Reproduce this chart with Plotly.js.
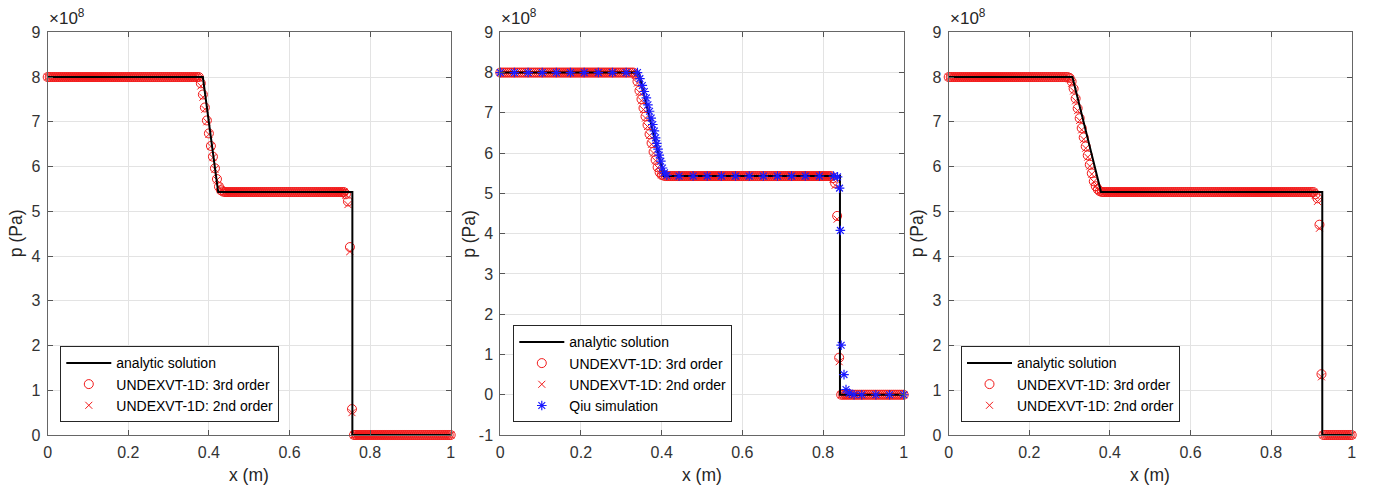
<!DOCTYPE html>
<html>
<head>
<meta charset="utf-8">
<script src="https://cdn.plot.ly/plotly-3.0.1.min.js"></script>
<style>html,body{margin:0;padding:0;background:#fff;}#chart{width:1373px;height:488px;}</style>
</head>
<body>
<div id="chart"></div>
<script>
// ---------------- DATA (pressure in units of 1e8 Pa) ----------------
const xTickVals = [0, 0.2, 0.4, 0.6, 0.8, 1];
const xTickText = ["0", "0.2", "0.4", "0.6", "0.8", "1"];
const yTickVals9 = [0, 1, 2, 3, 4, 5, 6, 7, 8, 9];
const yTickText9 = ["0", "1", "2", "3", "4", "5", "6", "7", "8", "9"];
const yTickVals10 = [-1, 0, 1, 2, 3, 4, 5, 6, 7, 8, 9];
const yTickText10 = ["-1", "0", "1", "2", "3", "4", "5", "6", "7", "8", "9"];

const seriesNames = ["analytic solution", "UNDEXVT-1D: 3rd order", "UNDEXVT-1D: 2nd order", "Qiu simulation"];

// cell positions of the 1D solver (m)
const xGrid = [
0,0.005,0.01,0.015,0.02,0.025,0.03,0.035,0.04,0.045,0.05,0.055,0.06,0.065,0.07,0.075,0.08,0.085,0.09,0.095,
0.1,0.105,0.11,0.115,0.12,0.125,0.13,0.135,0.14,0.145,0.15,0.155,0.16,0.165,0.17,0.175,0.18,0.185,0.19,0.195,
0.2,0.205,0.21,0.215,0.22,0.225,0.23,0.235,0.24,0.245,0.25,0.255,0.26,0.265,0.27,0.275,0.28,0.285,0.29,0.295,
0.3,0.305,0.31,0.315,0.32,0.325,0.33,0.335,0.34,0.345,0.35,0.355,0.36,0.365,0.37,0.375,0.38,0.385,0.39,0.395,
0.4,0.405,0.41,0.415,0.42,0.425,0.43,0.435,0.44,0.445,0.45,0.455,0.46,0.465,0.47,0.475,0.48,0.485,0.49,0.495,
0.5,0.505,0.51,0.515,0.52,0.525,0.53,0.535,0.54,0.545,0.55,0.555,0.56,0.565,0.57,0.575,0.58,0.585,0.59,0.595,
0.6,0.605,0.61,0.615,0.62,0.625,0.63,0.635,0.64,0.645,0.65,0.655,0.66,0.665,0.67,0.675,0.68,0.685,0.69,0.695,
0.7,0.705,0.71,0.715,0.72,0.725,0.73,0.735,0.74,0.745,0.75,0.755,0.76,0.765,0.77,0.775,0.78,0.785,0.79,0.795,
0.8,0.805,0.81,0.815,0.82,0.825,0.83,0.835,0.84,0.845,0.85,0.855,0.86,0.865,0.87,0.875,0.88,0.885,0.89,0.895,
0.9,0.905,0.91,0.915,0.92,0.925,0.93,0.935,0.94,0.945,0.95,0.955,0.96,0.965,0.97,0.975,0.98,0.985,0.99,0.995,
1];

// Panel 1
const p1AnalyticX = [0, 0.385, 0.423, 0.756, 0.756, 1];
const p1AnalyticY = [8, 8, 5.43, 5.43, 0, 0];
const p1Order3 = [
8,8,8,8,8, 8,8,8,8,8, 8,8,8,8,8, 8,8,8,8,8, 8,8,8,8,8,
8,8,8,8,8, 8,8,8,8,8, 8,8,8,8,8, 8,8,8,8,8, 8,8,8,8,8,
8,8,8,8,8, 8,8,8,8,8, 8,8,8,8,8, 8,8,8,8,8, 8,8,8,8,8,
8,7.86,7.61,7.32,7.03, 6.74,6.46,6.22,5.96,5.72, 5.55,5.47,5.44,5.43,5.43, 5.43,5.43,5.43,5.43,5.43, 5.43,5.43,5.43,5.43,5.43,
5.43,5.43,5.43,5.43,5.43, 5.43,5.43,5.43,5.43,5.43, 5.43,5.43,5.43,5.43,5.43, 5.43,5.43,5.43,5.43,5.43, 5.43,5.43,5.43,5.43,5.43,
5.43,5.43,5.43,5.43,5.43, 5.43,5.43,5.43,5.43,5.43, 5.43,5.43,5.43,5.43,5.43, 5.43,5.43,5.43,5.43,5.43, 5.43,5.43,5.43,5.38,5.22,
4.20,0.58,0,0,0, 0,0,0,0,0, 0,0,0,0,0, 0,0,0,0,0, 0,0,0,0,0,
0,0,0,0,0, 0,0,0,0,0, 0,0,0,0,0, 0,0,0,0,0, 0,0,0,0,0,
0];
const p1Order2 = [
8,8,8,8,8, 8,8,8,8,8, 8,8,8,8,8, 8,8,8,8,8, 8,8,8,8,8,
8,8,8,8,8, 8,8,8,8,8, 8,8,8,8,8, 8,8,8,8,8, 8,8,8,8,8,
8,8,8,8,8, 8,8,8,8,8, 8,8,8,8,8, 8,8,8,8,8, 8,8,8,8,8,
7.97,7.80,7.55,7.28,7.00, 6.72,6.45,6.20,5.94,5.70, 5.55,5.48,5.45,5.43,5.43, 5.43,5.43,5.43,5.43,5.43, 5.43,5.43,5.43,5.43,5.43,
5.43,5.43,5.43,5.43,5.43, 5.43,5.43,5.43,5.43,5.43, 5.43,5.43,5.43,5.43,5.43, 5.43,5.43,5.43,5.43,5.43, 5.43,5.43,5.43,5.43,5.43,
5.43,5.43,5.43,5.43,5.43, 5.43,5.43,5.43,5.43,5.43, 5.43,5.43,5.43,5.43,5.43, 5.43,5.43,5.43,5.43,5.43, 5.43,5.43,5.43,5.36,5.15,
4.10,0.50,0,0,0, 0,0,0,0,0, 0,0,0,0,0, 0,0,0,0,0, 0,0,0,0,0,
0,0,0,0,0, 0,0,0,0,0, 0,0,0,0,0, 0,0,0,0,0, 0,0,0,0,0,
0];

// Panel 2
const p2AnalyticX = [0, 0.343, 0.405, 0.842, 0.842, 1];
const p2AnalyticY = [8, 8, 5.43, 5.43, 0, 0];
const p2Order3 = [
8,8,8,8,8, 8,8,8,8,8, 8,8,8,8,8, 8,8,8,8,8, 8,8,8,8,8,
8,8,8,8,8, 8,8,8,8,8, 8,8,8,8,8, 8,8,8,8,8, 8,8,8,8,8,
8,8,8,8,8, 8,8,8,8,8, 8,8,8,8,8, 8,8,7.95,7.78,7.55, 7.34,7.12,6.91,6.70,6.47,
6.25,6.03,5.83,5.65,5.52, 5.46,5.44,5.43,5.43,5.43, 5.43,5.43,5.43,5.43,5.43, 5.43,5.43,5.43,5.43,5.43, 5.43,5.43,5.43,5.43,5.43,
5.43,5.43,5.43,5.43,5.43, 5.43,5.43,5.43,5.43,5.43, 5.43,5.43,5.43,5.43,5.43, 5.43,5.43,5.43,5.43,5.43, 5.43,5.43,5.43,5.43,5.43,
5.43,5.43,5.43,5.43,5.43, 5.43,5.43,5.43,5.43,5.43, 5.43,5.43,5.43,5.43,5.43, 5.43,5.43,5.43,5.43,5.43, 5.43,5.43,5.43,5.43,5.43,
5.43,5.43,5.43,5.43,5.43, 5.43,5.43,5.43,5.43,5.43, 5.43,5.43,5.43,5.43,5.43, 5.38,5.25,4.44,0.92,0, 0,0,0,0,0,
0,0,0,0,0, 0,0,0,0,0, 0,0,0,0,0, 0,0,0,0,0, 0,0,0,0,0,
0];
const p2Order2 = [
8,8,8,8,8, 8,8,8,8,8, 8,8,8,8,8, 8,8,8,8,8, 8,8,8,8,8,
8,8,8,8,8, 8,8,8,8,8, 8,8,8,8,8, 8,8,8,8,8, 8,8,8,8,8,
8,8,8,8,8, 8,8,8,8,8, 8,8,8,8,8, 8,8,7.93,7.74,7.51, 7.30,7.08,6.87,6.66,6.44,
6.22,6.00,5.81,5.64,5.52, 5.46,5.44,5.43,5.43,5.43, 5.43,5.43,5.43,5.43,5.43, 5.43,5.43,5.43,5.43,5.43, 5.43,5.43,5.43,5.43,5.43,
5.43,5.43,5.43,5.43,5.43, 5.43,5.43,5.43,5.43,5.43, 5.43,5.43,5.43,5.43,5.43, 5.43,5.43,5.43,5.43,5.43, 5.43,5.43,5.43,5.43,5.43,
5.43,5.43,5.43,5.43,5.43, 5.43,5.43,5.43,5.43,5.43, 5.43,5.43,5.43,5.43,5.43, 5.43,5.43,5.43,5.43,5.43, 5.43,5.43,5.43,5.43,5.43,
5.43,5.43,5.43,5.43,5.43, 5.43,5.43,5.43,5.43,5.43, 5.43,5.43,5.43,5.43,5.43, 5.35,5.20,4.36,0.82,0, 0,0,0,0,0,
0,0,0,0,0, 0,0,0,0,0, 0,0,0,0,0, 0,0,0,0,0, 0,0,0,0,0,
0];
const qiuX = [0,0.035,0.069,0.104,0.139,0.174,0.208,0.243,0.278,0.312,
0.340,0.346,0.352,0.357,0.362,0.366,0.370,0.374,0.378,0.382,0.385,0.388,0.391,0.394,0.398,0.402,0.407,0.413,
0.443,0.478,0.513,0.548,0.583,0.617,0.652,0.687,0.722,0.756,0.791,0.826,
0.836,0.841,0.843,0.845,0.852,0.857,0.865,0.877,
0.896,0.931,0.965,1.0];
const qiuY = [8,8,8,8,8,8,8,8,8,8,
8.0,7.85,7.68,7.53,7.37,7.20,7.04,6.87,6.71,6.55,6.38,6.24,6.10,5.95,5.80,5.63,5.51,5.45,
5.43,5.43,5.43,5.43,5.43,5.43,5.43,5.43,5.43,5.43,5.43,5.43,
5.41,5.13,4.08,1.23,0.50,0.13,0.04,0,
0,0,0,0];

// Panel 3
const p3AnalyticX = [0, 0.307, 0.378, 0.927, 0.927, 1];
const p3AnalyticY = [8, 8, 5.43, 5.43, 0, 0];
const p3Order3 = [
8,8,8,8,8, 8,8,8,8,8, 8,8,8,8,8, 8,8,8,8,8, 8,8,8,8,8,
8,8,8,8,8, 8,8,8,8,8, 8,8,8,8,8, 8,8,8,8,8, 8,8,8,8,8,
8,8,8,8,8, 8,8,8,8,8, 7.98,7.90,7.74,7.52,7.30, 7.08,6.86,6.65,6.45,6.25, 6.04,5.85,5.67,5.56,5.49,
5.45,5.43,5.43,5.43,5.43, 5.43,5.43,5.43,5.43,5.43, 5.43,5.43,5.43,5.43,5.43, 5.43,5.43,5.43,5.43,5.43, 5.43,5.43,5.43,5.43,5.43,
5.43,5.43,5.43,5.43,5.43, 5.43,5.43,5.43,5.43,5.43, 5.43,5.43,5.43,5.43,5.43, 5.43,5.43,5.43,5.43,5.43, 5.43,5.43,5.43,5.43,5.43,
5.43,5.43,5.43,5.43,5.43, 5.43,5.43,5.43,5.43,5.43, 5.43,5.43,5.43,5.43,5.43, 5.43,5.43,5.43,5.43,5.43, 5.43,5.43,5.43,5.43,5.43,
5.43,5.43,5.43,5.43,5.43, 5.43,5.43,5.43,5.43,5.43, 5.43,5.43,5.43,5.43,5.43, 5.43,5.43,5.43,5.43,5.43, 5.43,5.43,5.43,5.43,5.43,
5.43,5.43,5.43,5.43,5.43, 5.43,5.43,5.38,5.29,4.70, 1.36,0,0,0,0, 0,0,0,0,0, 0,0,0,0,0,
0];
const p3Order2 = [
8,8,8,8,8, 8,8,8,8,8, 8,8,8,8,8, 8,8,8,8,8, 8,8,8,8,8,
8,8,8,8,8, 8,8,8,8,8, 8,8,8,8,8, 8,8,8,8,8, 8,8,8,8,8,
8,8,8,8,8, 8,8,8,8,8, 7.96,7.86,7.69,7.47,7.25, 7.03,6.82,6.61,6.41,6.21, 6.01,5.83,5.66,5.56,5.49,
5.45,5.43,5.43,5.43,5.43, 5.43,5.43,5.43,5.43,5.43, 5.43,5.43,5.43,5.43,5.43, 5.43,5.43,5.43,5.43,5.43, 5.43,5.43,5.43,5.43,5.43,
5.43,5.43,5.43,5.43,5.43, 5.43,5.43,5.43,5.43,5.43, 5.43,5.43,5.43,5.43,5.43, 5.43,5.43,5.43,5.43,5.43, 5.43,5.43,5.43,5.43,5.43,
5.43,5.43,5.43,5.43,5.43, 5.43,5.43,5.43,5.43,5.43, 5.43,5.43,5.43,5.43,5.43, 5.43,5.43,5.43,5.43,5.43, 5.43,5.43,5.43,5.43,5.43,
5.43,5.43,5.43,5.43,5.43, 5.43,5.43,5.43,5.43,5.43, 5.43,5.43,5.43,5.43,5.43, 5.43,5.43,5.43,5.43,5.43, 5.43,5.43,5.43,5.43,5.43,
5.43,5.43,5.43,5.43,5.43, 5.43,5.43,5.36,5.22,4.62, 1.30,0,0,0,0, 0,0,0,0,0, 0,0,0,0,0,
0];

// ---------------- LAYOUT / STYLE ----------------
const W = 1373, H = 488;
const fx = v => v / W;
const fy = v => 1 - v / H;
const FONT = "Arial, 'Liberation Sans', Helvetica, sans-serif";
const TXT = "#262626";
const plotTop = 32.3, plotBottom = 435;
const panels = [
  {l: 47.7, r: 450.7, yr: [0, 9], tv: yTickVals9, tt: yTickText9},
  {l: 500.3, r: 903.7, yr: [-1, 9], tv: yTickVals10, tt: yTickText10},
  {l: 948.7, r: 1351.7, yr: [0, 9], tv: yTickVals9, tt: yTickText9}
];
const legBottom = 422.3;
const legLeft = [60.3, 513.3, 961];

const sets = [
  {ax: p1AnalyticX, ay: p1AnalyticY, o3: p1Order3, o2: p1Order2, qiu: false},
  {ax: p2AnalyticX, ay: p2AnalyticY, o3: p2Order3, o2: p2Order2, qiu: true},
  {ax: p3AnalyticX, ay: p3AnalyticY, o3: p3Order3, o2: p3Order2, qiu: false}
];

const traces = [];
const layout = {
  width: W, height: H,
  margin: {l: 0, r: 0, t: 0, b: 0},
  paper_bgcolor: "#ffffff", plot_bgcolor: "#ffffff",
  font: {family: FONT, color: TXT, size: 16},
  showlegend: true,
  annotations: []
};

const errs = [];
[p1Order3, p1Order2, p2Order3, p2Order2, p3Order3, p3Order2].forEach((a, k) => { if (a.length !== xGrid.length) errs.push("array " + k + " len " + a.length); });
if (qiuX.length !== qiuY.length) errs.push("qiu len");

const RED = "#f21a1a";
sets.forEach((s, i) => {
  const n = i === 0 ? "" : String(i + 1);
  const xa = "x" + n, ya = "y" + n, lg = "legend" + n;
  traces.push({x: xGrid, y: s.o3, xaxis: xa, yaxis: ya, type: "scatter", mode: "markers",
    name: seriesNames[1], legend: lg, legendrank: 2, cliponaxis: false,
    marker: {symbol: "circle-open", size: 9, color: RED, line: {width: 1, color: RED}}});
  traces.push({x: xGrid, y: s.o2, xaxis: xa, yaxis: ya, type: "scatter", mode: "markers",
    name: seriesNames[2], legend: lg, legendrank: 3, cliponaxis: false,
    marker: {symbol: "x-thin-open", size: 7, color: RED, line: {width: 1, color: RED}}});
  traces.push({x: s.ax, y: s.ay, xaxis: xa, yaxis: ya, type: "scatter", mode: "lines",
    name: seriesNames[0], legend: lg, legendrank: 1,
    line: {color: "#000000", width: 2}});
  if (s.qiu) {
    traces.push({x: qiuX, y: qiuY, xaxis: xa, yaxis: ya, type: "scatter", mode: "markers",
      name: seriesNames[3], legend: lg, legendrank: 4, cliponaxis: false,
      marker: {symbol: "asterisk-open", size: 8, color: "#1a1aff", line: {width: 1.2, color: "#1a1aff"}}});
  }
  const p = panels[i];
  layout["xaxis" + n] = {
    domain: [fx(p.l), fx(p.r)], anchor: ya, range: [0, 1],
    tickmode: "array", tickvals: xTickVals, ticktext: xTickText,
    ticks: "inside", ticklen: 5, tickwidth: 1, tickcolor: "#555",
    showline: true, linecolor: "#666", linewidth: 1, mirror: "ticks",
    showgrid: true, gridcolor: "#e3e3e3", gridwidth: 1, zeroline: false,
    tickfont: {family: FONT, size: 16, color: "#333"}, ticklabelstandoff: 3,
    fixedrange: true
  };
  layout["yaxis" + n] = {
    domain: [fy(plotBottom), fy(plotTop)], anchor: xa, range: p.yr,
    tickmode: "array", tickvals: p.tv, ticktext: p.tt,
    ticks: "inside", ticklen: 5, tickwidth: 1, tickcolor: "#555",
    showline: true, linecolor: "#666", linewidth: 1, mirror: "ticks",
    showgrid: true, gridcolor: "#e3e3e3", gridwidth: 1, zeroline: false,
    tickfont: {family: FONT, size: 16, color: "#333"}, ticklabelstandoff: 3,
    fixedrange: true
  };
  layout[lg] = {
    x: fx(legLeft[i]), y: fy(legBottom), xanchor: "left", yanchor: "bottom",
    xref: "paper", yref: "paper",
    bgcolor: "#ffffff", bordercolor: "#262626", borderwidth: 1,
    font: {family: FONT, size: 14, color: "#000"},
    itemwidth: 45, tracegroupgap: 0, traceorder: "normal",
    itemclick: false, itemdoubleclick: false
  };
  layout.annotations.push({
    text: "x (m)", xref: "paper", yref: "paper", x: fx((p.l + p.r) / 2), y: fy(475),
    xanchor: "center", yanchor: "middle", showarrow: false,
    font: {family: FONT, size: 17.5, color: TXT}
  });
  layout.annotations.push({
    text: "p (Pa)", xref: "paper", yref: "paper", x: fx(p.l - 31), y: fy(233.5),
    xanchor: "center", yanchor: "middle", textangle: -90, showarrow: false,
    font: {family: FONT, size: 17.5, color: TXT}
  });
  layout.annotations.push({
    text: "×10<sup>8</sup>", xref: "paper", yref: "paper", x: fx(p.l - 1), y: fy(plotTop - 2),
    xanchor: "left", yanchor: "bottom", showarrow: false,
    font: {family: FONT, size: 17, color: TXT}
  });
});
if (errs.length) layout.annotations.push({text: errs.join("; "), xref: "paper", yref: "paper", x: 0.5, y: 0.5, showarrow: false, font: {size: 20, color: "magenta"}});

Plotly.newPlot("chart", traces, layout, {staticPlot: true, displayModeBar: false});
</script>
</body>
</html>
